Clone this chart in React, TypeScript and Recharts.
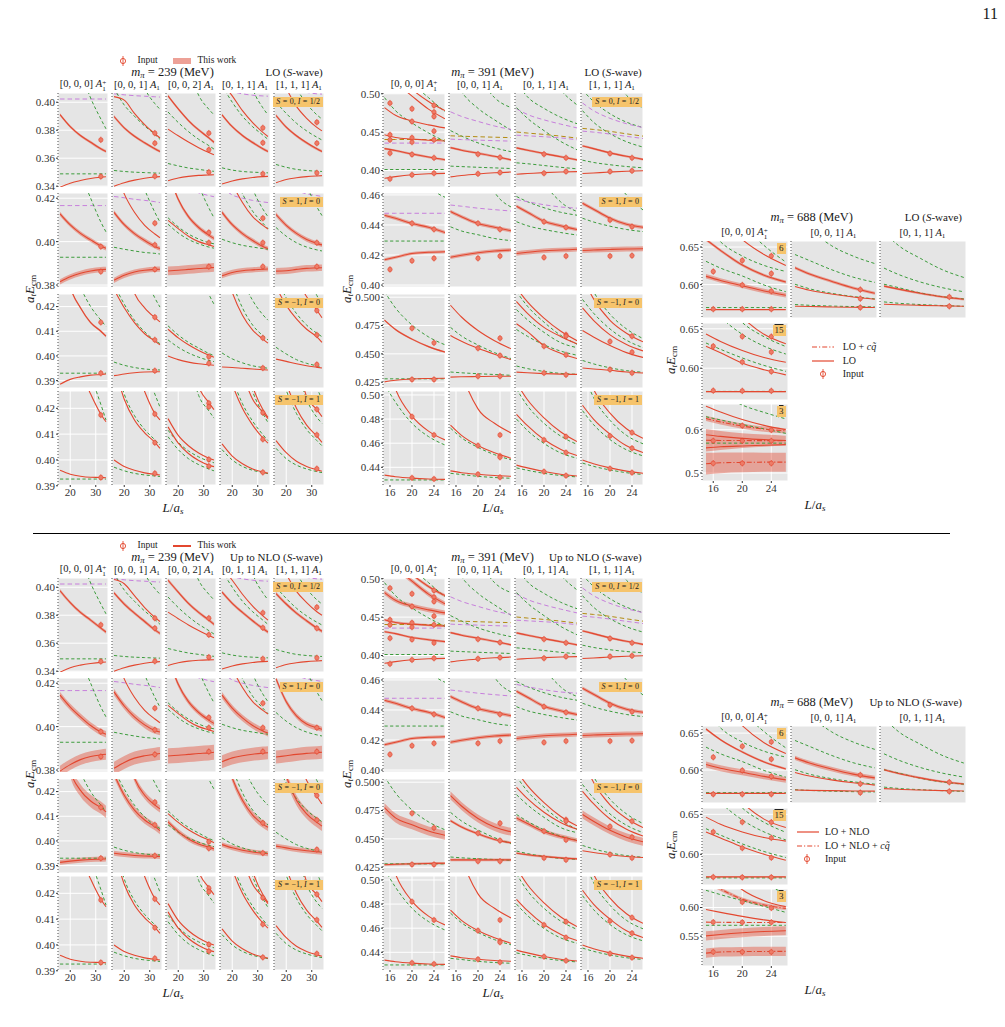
import React from 'react';
import { ComposedChart, Line, Area, Scatter, XAxis, YAxis, CartesianGrid } from 'recharts';

// a curve is [style, energies on the volume grid, optional half-width of its error band]
type Kind = 'r' | 'q' | 'g' | 'p' | 'y';
type Curve = [Kind, number[], (number | number[])?];
type Cell = Curve[];
type Inputs = number[][];

// ---------------------------------------------------------------- volumes
const L239 = [16, 20, 24, 28, 32, 34];
const vol239 = [32];
const L391 = [15, 17, 20, 23, 26];
const vol391 = [16, 20, 24];

// ---------------------------------------------------------------- labels
const irreps239 = ['0, 0, 0', '0, 0, 1', '0, 0, 2', '0, 1, 1', '1, 1, 1'];
const irreps391 = ['0, 0, 0', '0, 0, 1', '0, 1, 1', '1, 1, 1'];
const irreps688 = ['0, 0, 0', '0, 0, 1', '0, 1, 1'];
const strangeness = ['0', '1', '\u22121', '\u22121'];
const isospin = ['1/2', '0', '0', '1'];
const flavour = ['6', '15', '3'];

const yTicks239 = [[0.34, 0.36, 0.38, 0.4], [0.38, 0.4, 0.42], [0.39, 0.4, 0.41, 0.42], [0.39, 0.4, 0.41, 0.42]];
const yTicks391 = [[0.4, 0.45, 0.5], [0.4, 0.42, 0.44, 0.46], [0.425, 0.45, 0.475, 0.5], [0.44, 0.46, 0.48, 0.5]];
const yTicks688lo = [[0.6, 0.65], [0.6, 0.65], [0.5, 0.6]];
const yTicks688nlo = [[0.6, 0.65], [0.6, 0.65], [0.55, 0.6]];

// ================================================================ m_pi = 239 MeV
// non-interacting levels and thresholds
const free239r1: Cell[] = [
  [['p', [0.4023, 0.4023, 0.4023, 0.4023, 0.4023, 0.4023]], ['g', [0.51, 0.455, 0.423, 0.403, 0.388, 0.381]], ['g', [0.3488, 0.3488, 0.3488, 0.3488, 0.3488, 0.3488]]],
  [['p', [0.406, 0.4053, 0.4047, 0.4043, 0.4039, 0.4037]], ['g', [0.52, 0.47, 0.43, 0.41, 0.399, 0.395]], ['g', [0.41, 0.398, 0.39, 0.383, 0.377, 0.3735]], ['g', [0.3512, 0.3505, 0.35, 0.3497, 0.3494, 0.3493]]],
  [['g', [0.5, 0.46, 0.425, 0.405, 0.395, 0.391]], ['g', [0.393, 0.3855, 0.379, 0.3735, 0.369, 0.3665]], ['g', [0.3562, 0.3545, 0.353, 0.352, 0.351, 0.3506]]],
  [['p', [0.409, 0.4075, 0.406, 0.405, 0.4045, 0.4043]], ['g', [0.53, 0.48, 0.44, 0.41, 0.396, 0.391]], ['g', [0.412, 0.4, 0.39, 0.3825, 0.3765, 0.3735]], ['g', [0.3531, 0.3515, 0.3505, 0.35, 0.3497, 0.3495]]],
  [['p', [0.412, 0.41, 0.408, 0.407, 0.406, 0.4058]], ['g', [0.45, 0.425, 0.41, 0.399, 0.391, 0.388]], ['g', [0.4, 0.392, 0.385, 0.3795, 0.375, 0.373]], ['g', [0.3555, 0.3535, 0.352, 0.3512, 0.3507, 0.3505]]],
];
const free239r2: Cell[] = [
  [['p', [0.4166, 0.4166, 0.4166, 0.4166, 0.4166, 0.4166]], ['g', [0.48, 0.45, 0.432, 0.42, 0.409, 0.4045]], ['g', [0.3928, 0.3928, 0.3928, 0.3928, 0.3928, 0.3928]]],
  [['p', [0.4208, 0.4202, 0.4195, 0.419, 0.4184, 0.418]], ['g', [0.48, 0.455, 0.437, 0.424, 0.4135, 0.409]], ['g', [0.3974, 0.3965, 0.3957, 0.395, 0.3946, 0.3943]]],
  [['p', [0.428, 0.426, 0.424, 0.4225, 0.4212, 0.4207]], ['g', [0.49, 0.46, 0.44, 0.426, 0.4155, 0.411]], ['g', [0.411, 0.4068, 0.4035, 0.4012, 0.3995, 0.399]], ['g', [0.408, 0.404, 0.401, 0.399, 0.3975, 0.397]]],
  [['p', [0.425, 0.4215, 0.42, 0.419, 0.4183, 0.418]], ['g', [0.49, 0.46, 0.44, 0.4245, 0.415, 0.4115]], ['g', [0.445, 0.432, 0.422, 0.414, 0.4085, 0.406]], ['g', [0.4011, 0.3995, 0.3983, 0.3975, 0.3968, 0.3965]]],
  [['p', [0.43, 0.426, 0.4235, 0.422, 0.4212, 0.4208]], ['g', [0.49, 0.46, 0.44, 0.426, 0.416, 0.412]], ['g', [0.4065, 0.4025, 0.3995, 0.3975, 0.3962, 0.3957]]],
];
const free239r3: Cell[] = [
  [['g', [0.46, 0.44, 0.428, 0.42, 0.4145, 0.412]], ['g', [0.393, 0.393, 0.393, 0.393, 0.393, 0.393]]],
  [['g', [0.429, 0.421, 0.4145, 0.4098, 0.4063, 0.405]], ['g', [0.5, 0.47, 0.448, 0.433, 0.4235, 0.4198]], ['g', [0.3975, 0.3962, 0.3953, 0.3947, 0.3944, 0.3943]]],
  [['g', [0.52, 0.48, 0.452, 0.436, 0.425, 0.421]], ['g', [0.4122, 0.4085, 0.4055, 0.4032, 0.401, 0.4001]], ['g', [0.4065, 0.4035, 0.4012, 0.3995, 0.3982, 0.3977]]],
  [['g', [0.47, 0.445, 0.431, 0.4225, 0.4167, 0.4145]], ['g', [0.445, 0.43, 0.4195, 0.4125, 0.4082, 0.4065]], ['g', [0.4012, 0.3988, 0.3972, 0.396, 0.3953, 0.395]]],
  [['g', [0.5, 0.47, 0.448, 0.433, 0.4245, 0.4205]], ['g', [0.432, 0.4235, 0.4172, 0.4125, 0.4092, 0.4078]], ['g', [0.4035, 0.4008, 0.3985, 0.397, 0.396, 0.3956]]],
];
const free239r4: Cell[] = [
  [['g', [0.49, 0.465, 0.446, 0.433, 0.4215, 0.4155]], ['g', [0.3926, 0.3926, 0.3926, 0.3926, 0.3926, 0.3926]]],
  [['g', [0.5, 0.47, 0.45, 0.436, 0.4255, 0.4205]], ['g', [0.44, 0.4255, 0.4172, 0.4118, 0.4078, 0.4058]], ['g', [0.3972, 0.3958, 0.3948, 0.3942, 0.3938, 0.3936]]],
  [['g', [0.485, 0.46, 0.44, 0.425, 0.419, 0.4162]], ['g', [0.4115, 0.4068, 0.4035, 0.4012, 0.3995, 0.3989]], ['g', [0.409, 0.404, 0.4005, 0.3982, 0.3965, 0.3958]]],
  [['g', [0.485, 0.458, 0.44, 0.4265, 0.418, 0.4145]], ['g', [0.447, 0.432, 0.4218, 0.415, 0.4098, 0.4075]], ['g', [0.404, 0.4, 0.3975, 0.396, 0.3951, 0.3947]]],
  [['g', [0.485, 0.455, 0.437, 0.4235, 0.4165, 0.4142]], ['g', [0.52, 0.49, 0.465, 0.44, 0.428, 0.4235]], ['g', [0.441, 0.427, 0.418, 0.4118, 0.4075, 0.4055]], ['g', [0.4045, 0.4005, 0.398, 0.3965, 0.3955, 0.3951]]],
];

// lattice inputs at L/a_s = 32
const in239r1: Inputs[] = [[[0.3731, 0.3469]], [[0.3779, 0.3707, 0.3471]], [[0.3779, 0.366, 0.35]], [[0.3817, 0.371, 0.3488]], [[0.3857, 0.3707, 0.3495]]];
const in239r2: Inputs[] = [[[0.3977, 0.3862]], [[0.4085, 0.3985, 0.3872]], [[0.4042, 0.3995, 0.3885]], [[0.4108, 0.3995, 0.3885]], [[0.3995, 0.3885]]];
const in239r3: Inputs[] = [[[0.4136, 0.393]], [[0.4157, 0.4065, 0.394]], [[0.3997, 0.397]], [[0.4073, 0.3951]], [[0.4184, 0.4085, 0.3965]]];
const in239r4: Inputs[] = [[[0.4174, 0.3932]], [[0.4178, 0.4067, 0.3948]], [[0.422, 0.4206, 0.4002, 0.3976]], [[0.4183, 0.408, 0.3952]], [[0.4196, 0.4097, 0.3966]]];

// LO spectra
const lo239r1: Cell[] = [
  [['r', [0.3912, 0.3826, 0.3762, 0.3714, 0.3667, 0.3648], 0.001], ['r', [0.3393, 0.3421, 0.344, 0.3455, 0.3464, 0.3467]]],
  [['r', [0.404, 0.4015, 0.392, 0.384, 0.3775, 0.3745]], ['r', [0.3898, 0.3817, 0.3757, 0.371, 0.3667, 0.3648], 0.001], ['r', [0.34, 0.3425, 0.3443, 0.3456, 0.3465, 0.3468]]],
  [['r', [0.4045, 0.3952, 0.3869, 0.3802, 0.3745, 0.3714], 0.001], ['r', [0.3808, 0.376, 0.3715, 0.3675, 0.364, 0.3625]], ['r', [0.3438, 0.3458, 0.347, 0.3477, 0.348, 0.3482]]],
  [['r', [0.414, 0.4045, 0.394, 0.3855, 0.3785, 0.3755]], ['r', [0.391, 0.3825, 0.3762, 0.3712, 0.3667, 0.3648], 0.001], ['r', [0.3415, 0.3437, 0.3452, 0.3462, 0.3468, 0.347]]],
  [['r', [0.425, 0.41, 0.397, 0.3885, 0.382, 0.3795]], ['r', [0.3905, 0.3822, 0.376, 0.371, 0.3667, 0.3648], 0.001], ['r', [0.3425, 0.3448, 0.346, 0.3468, 0.3473, 0.3475]]],
];
const lo239r2: Cell[] = [
  [['r', [0.4128, 0.4077, 0.4038, 0.4008, 0.398, 0.3969], 0.001], ['r', [0.3815, 0.3838, 0.3854, 0.3865, 0.3871, 0.3872], 0.0012]],
  [['r', [0.435, 0.422, 0.4135, 0.4075, 0.4035, 0.4018]], ['r', [0.4135, 0.4078, 0.4037, 0.4005, 0.3978, 0.3968], 0.001], ['r', [0.3822, 0.3845, 0.386, 0.3868, 0.3872, 0.3873], 0.0012]],
  [['r', [0.432, 0.4195, 0.4115, 0.4065, 0.403, 0.4015], 0.001], ['r', [0.4098, 0.406, 0.4025, 0.4, 0.3985, 0.3978]], ['r', [0.3865, 0.3868, 0.3872, 0.3876, 0.3879, 0.3881], 0.002]],
  [['r', [0.44, 0.427, 0.418, 0.4115, 0.4075, 0.4058]], ['r', [0.4135, 0.4078, 0.4037, 0.4005, 0.3978, 0.3968], 0.001], ['r', [0.3843, 0.3858, 0.3866, 0.387, 0.3873, 0.3874], 0.0012]],
  [['r', [0.4125, 0.4075, 0.4038, 0.401, 0.3992, 0.3985], 0.001], ['r', [0.3864, 0.3866, 0.3872, 0.3877, 0.3879, 0.388], 0.0015]],
];
const lo239r3: Cell[] = [
  [['r', [0.448, 0.428, 0.4195, 0.4135, 0.41, 0.408], 0.0005], ['r', [0.3885, 0.3905, 0.3915, 0.3922, 0.3925, 0.3927]]],
  [['r', [0.46, 0.44, 0.4255, 0.4195, 0.4155, 0.4138]], ['r', [0.427, 0.4195, 0.4135, 0.409, 0.406, 0.4045]], ['r', [0.392, 0.3927, 0.3932, 0.3935, 0.3936, 0.3936]]],
  [['r', [0.4108, 0.4073, 0.4045, 0.4022, 0.4003, 0.3995]], ['r', [0.4, 0.3985, 0.3975, 0.3968, 0.3964, 0.3962]]],
  [['r', [0.44, 0.4258, 0.4165, 0.4105, 0.4068, 0.4052]], ['r', [0.3955, 0.3953, 0.395, 0.3947, 0.3944, 0.3943]]],
  [['r', [0.47, 0.447, 0.432, 0.424, 0.4185, 0.4155]], ['r', [0.428, 0.4205, 0.415, 0.4108, 0.4077, 0.4055]], ['r', [0.3987, 0.3978, 0.3968, 0.396, 0.3954, 0.3951]]],
];
const lo239r4: Cell[] = [
  [['r', [0.47, 0.45, 0.435, 0.4255, 0.4177, 0.4148]], ['r', [0.396, 0.3945, 0.3937, 0.3933, 0.3932, 0.3931]]],
  [['r', [0.48, 0.455, 0.438, 0.4265, 0.418, 0.4155]], ['r', [0.437, 0.4235, 0.4155, 0.4105, 0.4068, 0.4045]], ['r', [0.4, 0.3975, 0.396, 0.395, 0.3944, 0.3942]]],
  [['r', [0.49, 0.465, 0.445, 0.4285, 0.4222, 0.4195]], ['r', [0.416, 0.4095, 0.4055, 0.4027, 0.4007, 0.4]], ['r', [0.4128, 0.4065, 0.4025, 0.3998, 0.398, 0.3974]]],
  [['r', [0.475, 0.45, 0.434, 0.4235, 0.4185, 0.416]], ['r', [0.49, 0.462, 0.443, 0.4285, 0.4195, 0.4165]], ['r', [0.444, 0.4295, 0.42, 0.4135, 0.4085, 0.4065]], ['r', [0.4062, 0.4015, 0.3985, 0.3965, 0.3953, 0.3949]]],
  [['r', [0.49, 0.46, 0.44, 0.4245, 0.4195, 0.4168]], ['r', [0.445, 0.43, 0.42, 0.4135, 0.4092, 0.4068]], ['r', [0.4075, 0.4028, 0.3995, 0.3975, 0.3962, 0.3956]]],
];

// spectra up to NLO (the S = -1, I = 1 row is unchanged)
const nlo239r1: Cell[] = [
  [['r', [0.3975, 0.389, 0.382, 0.3765, 0.3708, 0.368], 0.0012], ['r', [0.3393, 0.3425, 0.3443, 0.3455, 0.3463, 0.3465]]],
  [['r', [0.4055, 0.4025, 0.394, 0.3855, 0.3785, 0.3755]], ['r', [0.396, 0.388, 0.3815, 0.3755, 0.3695, 0.367], 0.0012], ['r', [0.34, 0.3425, 0.3443, 0.3456, 0.3465, 0.3468]]],
  [['r', [0.405, 0.3965, 0.3885, 0.382, 0.3765, 0.3735], 0.0012], ['r', [0.3822, 0.3775, 0.373, 0.369, 0.3655, 0.3638]], ['r', [0.344, 0.346, 0.3472, 0.3478, 0.3481, 0.3482]]],
  [['r', [0.414, 0.405, 0.395, 0.3865, 0.3795, 0.3765]], ['r', [0.3965, 0.3885, 0.382, 0.376, 0.3705, 0.368], 0.0012], ['r', [0.3415, 0.3437, 0.3452, 0.3462, 0.3468, 0.347]]],
  [['r', [0.424, 0.4095, 0.397, 0.389, 0.3825, 0.38]], ['r', [0.3955, 0.388, 0.3815, 0.376, 0.3708, 0.3685], 0.0012], ['r', [0.3425, 0.3448, 0.346, 0.3468, 0.3473, 0.3475]]],
];
const nlo239r2: Cell[] = [
  [['r', [0.4145, 0.409, 0.4045, 0.4005, 0.3975, 0.3965], 0.0015], ['r', [0.3795, 0.3825, 0.3848, 0.3862, 0.387, 0.3873], 0.0025]],
  [['r', [0.435, 0.422, 0.4135, 0.4075, 0.4035, 0.4018]], ['r', [0.416, 0.4095, 0.4045, 0.4008, 0.3982, 0.3975], 0.0015], ['r', [0.3808, 0.3835, 0.3855, 0.3866, 0.3873, 0.3876], 0.003]],
  [['r', [0.432, 0.4195, 0.4115, 0.4065, 0.403, 0.4015], 0.0012], ['r', [0.4098, 0.406, 0.4025, 0.4, 0.3985, 0.3978]], ['r', [0.3865, 0.3868, 0.3872, 0.3876, 0.3879, 0.3882], 0.0035]],
  [['r', [0.44, 0.427, 0.418, 0.4115, 0.4075, 0.4058]], ['r', [0.4145, 0.4085, 0.404, 0.4005, 0.398, 0.397], 0.0015], ['r', [0.3838, 0.3856, 0.3866, 0.3873, 0.3878, 0.388], 0.003]],
  [['r', [0.422, 0.4115, 0.405, 0.4012, 0.3995, 0.3988], 0.0012], ['r', [0.386, 0.3866, 0.3872, 0.3877, 0.388, 0.3882], 0.003]],
];
const nlo239r3: Cell[] = [
  [['r', [0.45, 0.4285, 0.4205, 0.4162, 0.4135, 0.4118], 0.0025], ['r', [0.3913, 0.3918, 0.3922, 0.3925, 0.3926, 0.3927], 0.001]],
  [['r', [0.46, 0.44, 0.4255, 0.4185, 0.4145, 0.413], 0.0015], ['r', [0.427, 0.4185, 0.4125, 0.4085, 0.4058, 0.4042], 0.0015], ['r', [0.395, 0.3945, 0.3941, 0.3939, 0.3938, 0.3937], 0.001]],
  [['r', [0.4111, 0.4075, 0.4045, 0.4022, 0.4003, 0.3993]], ['r', [0.4077, 0.4038, 0.4008, 0.3988, 0.3975, 0.3968], 0.001]],
  [['r', [0.44, 0.4255, 0.4165, 0.4105, 0.4068, 0.4055], 0.0015], ['r', [0.3985, 0.3972, 0.3962, 0.3955, 0.395, 0.3948], 0.001]],
  [['r', [0.48, 0.452, 0.435, 0.4245, 0.418, 0.415]], ['r', [0.445, 0.4265, 0.4165, 0.411, 0.4075, 0.406], 0.002], ['r', [0.3979, 0.3972, 0.3965, 0.396, 0.3956, 0.3954], 0.001]],
];

// ================================================================ m_pi = 391 MeV
const free391r1: Cell[] = [
  [['g', [0.495, 0.478, 0.462, 0.449, 0.438]], ['g', [0.58, 0.55, 0.515, 0.495, 0.4765]], ['y', [0.4404, 0.4404, 0.4404, 0.4404, 0.4404]], ['p', [0.4357, 0.4357, 0.4357, 0.4357, 0.4357]], ['g', [0.4013, 0.4013, 0.4013, 0.4013, 0.4013]]],
  [['g', [0.53, 0.503, 0.481, 0.466, 0.4525]], ['g', [0.6, 0.57, 0.525, 0.495, 0.482]], ['p', [0.4765, 0.4705, 0.464, 0.458, 0.4535]], ['g', [0.452, 0.445, 0.436, 0.4295, 0.4245]], ['y', [0.4452, 0.4447, 0.444, 0.4434, 0.4428]], ['p', [0.4409, 0.4403, 0.4396, 0.4389, 0.4383]], ['g', [0.4057, 0.4051, 0.4042, 0.4034, 0.4026]]],
  [['g', [0.515, 0.496, 0.481, 0.4695, 0.461]], ['g', [0.62, 0.58, 0.535, 0.505, 0.4855]], ['p', [0.4805, 0.473, 0.466, 0.4605, 0.4555]], ['g', [0.482, 0.468, 0.452, 0.438, 0.427]], ['y', [0.4502, 0.4488, 0.447, 0.4448, 0.4422]], ['p', [0.446, 0.4452, 0.444, 0.4425, 0.44]], ['g', [0.41, 0.4088, 0.4065, 0.4042, 0.4022]]],
  [['g', [0.505, 0.49, 0.474, 0.463, 0.456]], ['g', [0.6, 0.565, 0.525, 0.498, 0.481]], ['p', [0.488, 0.478, 0.468, 0.461, 0.456]], ['g', [0.478, 0.463, 0.448, 0.4375, 0.4305]], ['y', [0.4548, 0.4535, 0.451, 0.4478, 0.4448]], ['p', [0.4513, 0.45, 0.4475, 0.4445, 0.4417]], ['g', [0.4135, 0.4105, 0.4075, 0.4052, 0.4035]]],
];
const free391r2: Cell[] = [
  [['g', [0.6, 0.55, 0.5, 0.468, 0.4585]], ['p', [0.4478, 0.4478, 0.4478, 0.4478, 0.4478]], ['g', [0.4293, 0.4293, 0.4293, 0.4293, 0.4293]]],
  [['g', [0.56, 0.525, 0.488, 0.462, 0.452]], ['p', [0.4533, 0.4525, 0.4512, 0.4502, 0.4493]], ['g', [0.4388, 0.436, 0.4335, 0.431, 0.4296]]],
  [['g', [0.54, 0.505, 0.47, 0.4555, 0.449]], ['g', [0.459, 0.4555, 0.4515, 0.4485, 0.4465]], ['p', [0.457, 0.4555, 0.4535, 0.452, 0.4512]], ['g', [0.4422, 0.4395, 0.437, 0.435, 0.4333]]],
  [['g', [0.53, 0.505, 0.475, 0.46, 0.45]], ['g', [0.4445, 0.442, 0.4392, 0.437, 0.4356]]],
];
const free391r3: Cell[] = [
  [['g', [0.505, 0.4905, 0.4755, 0.465, 0.458]], ['g', [0.428, 0.428, 0.428, 0.428, 0.428]]],
  [['g', [0.4734, 0.4658, 0.4578, 0.4511, 0.4459]], ['g', [0.434, 0.4333, 0.4325, 0.4318, 0.4311]]],
  [['g', [0.505, 0.492, 0.478, 0.4665, 0.4585]], ['g', [0.489, 0.48, 0.469, 0.46, 0.4555]], ['g', [0.4715, 0.4655, 0.458, 0.4525, 0.4488]], ['g', [0.4393, 0.437, 0.4345, 0.4328, 0.432]]],
  [['g', [0.525, 0.505, 0.485, 0.472, 0.4635]], ['g', [0.498, 0.486, 0.472, 0.462, 0.4555]], ['g', [0.4442, 0.4412, 0.4377, 0.4352, 0.4338]]],
];
const free391r4: Cell[] = [
  [['g', [0.509, 0.494, 0.4765, 0.4655, 0.4585]], ['g', [0.4295, 0.4295, 0.4295, 0.4295, 0.4295]]],
  [['g', [0.4725, 0.4645, 0.4565, 0.4505, 0.4462]], ['g', [0.435, 0.434, 0.4325, 0.4315, 0.4309]]],
  [['g', [0.505, 0.491, 0.4765, 0.466, 0.459]], ['g', [0.48, 0.4705, 0.4598, 0.452, 0.4475]], ['g', [0.4395, 0.4375, 0.435, 0.4332, 0.432]]],
  [['g', [0.52, 0.498, 0.479, 0.4665, 0.4595]], ['g', [0.487, 0.4755, 0.463, 0.4545, 0.4495]], ['g', [0.4435, 0.4408, 0.4378, 0.4355, 0.434]]],
];

// lattice inputs at L/a_s = 16, 20, 24
const in391r1: Inputs[] = [
  [[0.4878, 0.4465, 0.44, 0.4226, 0.3891], [0.4804, 0.4639, 0.4426, 0.437, 0.4209, 0.3943], [0.4848, 0.4761, 0.4704, 0.4513, 0.44, 0.4165, 0.3965]],
  [[], [0.4213, 0.3957], [0.417, 0.3974]],
  [[], [0.4213, 0.3965], [0.4165, 0.3987]],
  [[], [0.4222, 0.3987], [0.4165, 0.3996]],
];
const in391r2: Inputs[] = [
  [[0.4104], [0.4411, 0.4162], [0.4371, 0.4178]],
  [[], [0.4411, 0.4178], [0.4371, 0.4193]],
  [[], [0.4422, 0.4184], [0.4384, 0.4193]],
  [[], [0.4433, 0.4193], [0.4389, 0.4196]],
];
const in391r3: Inputs[] = [
  [[], [0.4726, 0.4274], [0.4597, 0.4274]],
  [[], [0.455, 0.4303], [0.4638, 0.4485, 0.4303]],
  [[], [0.4568, 0.4332], [0.4668, 0.4656, 0.4491, 0.4315]],
  [[], [0.4609, 0.4362], [0.4656, 0.4515, 0.4332]],
];
const in391r4: Inputs[] = [
  [[], [0.482, 0.4312], [0.4668, 0.4303]],
  [[], [0.458, 0.4342], [0.4668, 0.4494, 0.4483, 0.4317]],
  [[], [0.4627, 0.4364], [0.4654, 0.4522, 0.4331]],
  [[], [0.466, 0.4389], [0.4688, 0.4558, 0.4356]],
];

const lo391r1: Cell[] = [
  [['r', [0.55, 0.53, 0.506, 0.49, 0.478]], ['r', [0.53, 0.515, 0.497, 0.48, 0.4674]], ['r', [0.482, 0.472, 0.4645, 0.4595, 0.4555]], ['r', [0.4465, 0.443, 0.441, 0.4395, 0.4385]], ['r', [0.4285, 0.426, 0.4215, 0.4175, 0.414], 0.0015], ['r', [0.3898, 0.392, 0.3945, 0.3958, 0.3963]]],
  [['r', [0.4298, 0.4265, 0.4225, 0.4185, 0.4138], 0.0015], ['r', [0.3917, 0.3935, 0.3955, 0.397, 0.398]]],
  [['r', [0.4295, 0.4265, 0.422, 0.418, 0.4138], 0.0015], ['r', [0.3952, 0.396, 0.3972, 0.398, 0.3986]]],
  [['r', [0.432, 0.4285, 0.423, 0.4185, 0.4145], 0.0015], ['r', [0.396, 0.3968, 0.398, 0.399, 0.3996]]],
];
const lo391r2: Cell[] = [
  [['r', [0.4465, 0.4445, 0.441, 0.4385, 0.435], 0.0012], ['r', [0.4168, 0.4185, 0.421, 0.4218, 0.4222], 0.001]],
  [['r', [0.449, 0.4455, 0.441, 0.4385, 0.4362], 0.0012], ['r', [0.4185, 0.4198, 0.4215, 0.4227, 0.4233], 0.0012]],
  [['r', [0.4525, 0.4485, 0.4425, 0.4395, 0.437], 0.0012], ['r', [0.421, 0.4218, 0.4228, 0.4233, 0.4238], 0.0015]],
  [['r', [0.4545, 0.4505, 0.4445, 0.4405, 0.4385], 0.0012], ['r', [0.423, 0.4233, 0.4237, 0.424, 0.4242], 0.0017]],
];
const lo391r3: Cell[] = [
  [['r', [0.4798, 0.4715, 0.463, 0.4564, 0.4516], 0.0008], ['r', [0.4253, 0.4267, 0.4279, 0.4283, 0.4285]]],
  [['r', [0.4929, 0.4825, 0.4706, 0.4616, 0.4545]], ['r', [0.4663, 0.4611, 0.4549, 0.4497, 0.445]], ['r', [0.4295, 0.4298, 0.43, 0.4302, 0.4302]]],
  [['r', [0.5081, 0.4958, 0.4815, 0.4701, 0.4616]], ['r', [0.4962, 0.4858, 0.4734, 0.4654, 0.4589]], ['r', [0.4766, 0.4696, 0.4573, 0.4506, 0.4459]], ['r', [0.4339, 0.4333, 0.4326, 0.4321, 0.4319]]],
  [['r', [0.5176, 0.4986, 0.4796, 0.4682, 0.4606]], ['r', [0.4905, 0.4796, 0.4668, 0.4583, 0.4526]], ['r', [0.4706, 0.4649, 0.4573, 0.4511, 0.4469]], ['r', [0.4376, 0.4367, 0.4355, 0.434, 0.4331]]],
];
const lo391r4: Cell[] = [
  [['r', [0.535, 0.505, 0.4825, 0.47, 0.4627]], ['r', [0.4335, 0.4322, 0.431, 0.4303, 0.43]]],
  [['r', [0.56, 0.52, 0.4885, 0.4765, 0.4685]], ['r', [0.475, 0.4665, 0.458, 0.452, 0.4475]], ['r', [0.437, 0.4355, 0.4342, 0.4332, 0.4325]]],
  [['r', [0.51, 0.496, 0.481, 0.4695, 0.4613]], ['r', [0.484, 0.4745, 0.463, 0.455, 0.4497]], ['r', [0.4418, 0.4395, 0.4365, 0.4342, 0.4328]]],
  [['r', [0.53, 0.505, 0.485, 0.472, 0.464]], ['r', [0.4915, 0.48, 0.4675, 0.4578, 0.4522]], ['r', [0.446, 0.443, 0.4395, 0.4368, 0.435]]],
];

const nlo391r1: Cell[] = [
  [['r', [0.55, 0.53, 0.506, 0.49, 0.478], 0.002], ['r', [0.53, 0.515, 0.497, 0.48, 0.4674], 0.003], ['r', [0.482, 0.472, 0.4645, 0.4595, 0.4555], 0.003], ['r', [0.4465, 0.443, 0.441, 0.4395, 0.4385], 0.0015], ['r', [0.431, 0.4285, 0.4235, 0.4205, 0.418], 0.0015], ['r', [0.3898, 0.392, 0.3945, 0.3958, 0.3963]]],
  lo391r1[1],
  lo391r1[2],
  lo391r1[3],
];
const nlo391r3: Cell[] = [
  [['r', [0.4775, 0.4685, 0.4625, 0.457, 0.4532], 0.004], ['r', [0.4272, 0.4276, 0.428, 0.4283, 0.4285], 0.001]],
  [['r', [0.4882, 0.479, 0.468, 0.4605, 0.4562], 0.0035], ['r', [0.466, 0.4605, 0.4545, 0.4495, 0.4465], 0.0012], ['r', [0.4315, 0.4315, 0.4315, 0.4315, 0.4315], 0.0012]],
  [['r', [0.51, 0.497, 0.482, 0.47, 0.4615]], ['r', [0.4955, 0.4855, 0.4735, 0.4645, 0.4585]], ['r', [0.4685, 0.4635, 0.4565, 0.452, 0.4485], 0.002], ['r', [0.4374, 0.436, 0.4345, 0.4332, 0.4324], 0.001]],
  [['r', [0.52, 0.5, 0.48, 0.468, 0.46]], ['r', [0.492, 0.481, 0.4675, 0.4585, 0.4525]], ['r', [0.4715, 0.4655, 0.4575, 0.4515, 0.4475], 0.0035], ['r', [0.4395, 0.438, 0.436, 0.4345, 0.4335]]],
];

// ================================================================ m_pi = 688 MeV
const free688r1: Cell[] = [
  [['g', [0.76, 0.72, 0.68, 0.652, 0.63]], ['g', [0.68, 0.657, 0.638, 0.6255, 0.6175]], ['g', [0.631, 0.622, 0.6115, 0.5995, 0.5905]], ['g', [0.5695, 0.5695, 0.5695, 0.5695, 0.5695]]],
  [['g', [0.7, 0.675, 0.652, 0.638, 0.628]], ['g', [0.64, 0.632, 0.62, 0.61, 0.603]], ['g', [0.6005, 0.5945, 0.5885, 0.5842, 0.581]], ['g', [0.5735, 0.5725, 0.5715, 0.5708, 0.5704]]],
  [['g', [0.67, 0.652, 0.635, 0.62, 0.6095]], ['g', [0.622, 0.6135, 0.6035, 0.596, 0.5905]], ['g', [0.6005, 0.596, 0.589, 0.584, 0.581]], ['g', [0.577, 0.5752, 0.5735, 0.5722, 0.5712]]],
];
const free688r2: Cell[] = [
  [['g', [0.72, 0.69, 0.658, 0.64, 0.6275]], ['g', [0.685, 0.665, 0.643, 0.628, 0.618]], ['g', [0.632, 0.624, 0.613, 0.6035, 0.596]], ['g', [0.5705, 0.5705, 0.5705, 0.5705, 0.5705]]],
];
const free688r3: Cell[] = [
  [['g', [0.71, 0.685, 0.657, 0.64, 0.625]], ['g', [0.63, 0.6225, 0.612, 0.602, 0.5915]], ['g', [0.569, 0.569, 0.569, 0.569, 0.569]]],
];

const in688r1: Inputs[] = [
  [[0.6174, 0.5674], [0.6321, 0.5995, 0.5674], [0.6381, 0.6147, 0.5913, 0.5674]],
  [[], [], [0.5934, 0.5814, 0.5695]],
  [[], [], [0.5836, 0.5712]],
];
const in688r2: Inputs[] = [[[0.6279, 0.5715], [0.6403, 0.6078, 0.5712], [0.6401, 0.6205, 0.5958, 0.5712]]];
const in688r3: Inputs[] = [[[0.5745, 0.5225], [0.6095, 0.5742, 0.5225], [0.5992, 0.5742, 0.5225]]];

const lo688r1: Cell[] = [
  [['r', [0.72, 0.69, 0.66, 0.64, 0.6255]], ['r', [0.66, 0.6455, 0.626, 0.6125, 0.6035], 0.002], ['r', [0.611, 0.6055, 0.5985, 0.5915, 0.5858], 0.003], ['r', [0.5668, 0.5668, 0.5668, 0.5668, 0.5668]]],
  [['r', [0.6225, 0.614, 0.6045, 0.5955, 0.5885], 0.002], ['r', [0.5975, 0.5925, 0.5875, 0.5835, 0.5805]], ['r', [0.5712, 0.5708, 0.5703, 0.5698, 0.5695]]],
  [['r', [0.598, 0.594, 0.5885, 0.5838, 0.5805], 0.0015], ['r', [0.5739, 0.5732, 0.5724, 0.5717, 0.5712]]],
];
const lo688r2: Cell[] = [
  [['r', [0.73, 0.7, 0.665, 0.643, 0.631]], ['r', [0.6435, 0.634, 0.6225, 0.6135, 0.6075]], ['r', [0.628, 0.6195, 0.6065, 0.598, 0.5915]], ['r', [0.5703, 0.5703, 0.5703, 0.5703, 0.5703], 0.0008]],
];
const lo688r3: Cell[] = [
  [['r', [0.6545, 0.641, 0.6235, 0.61, 0.6]], ['q', [0.626, 0.618, 0.6085, 0.6015, 0.5975], 0.006], ['r', [0.5885, 0.5845, 0.58, 0.577, 0.575]], ['q', [0.5755, 0.5752, 0.575, 0.5748, 0.5748], [0.026, 0.022, 0.017, 0.014, 0.0115]], ['r', [0.558, 0.5605, 0.5625, 0.564, 0.5655]], ['q', [0.5215, 0.5235, 0.5245, 0.525, 0.525], [0.025, 0.024, 0.023, 0.022, 0.022]]],
];
const nlo688r1: Cell[] = [
  [['r', [0.725, 0.693, 0.66, 0.637, 0.6225]], ['r', [0.6555, 0.641, 0.6245, 0.611, 0.6015], 0.0015], ['r', [0.6075, 0.6025, 0.597, 0.5915, 0.5868], 0.004], ['r', [0.5685, 0.5685, 0.5685, 0.5685, 0.5685]]],
  [['r', [0.6165, 0.6095, 0.6015, 0.5945, 0.5895], 0.003], ['r', [0.5968, 0.592, 0.5868, 0.5828, 0.5797]], ['r', [0.573, 0.5726, 0.5722, 0.5718, 0.5716]]],
  [['r', [0.6005, 0.5955, 0.5895, 0.5845, 0.5811], 0.0015], ['r', [0.575, 0.574, 0.573, 0.5722, 0.5718]]],
];
const nlo688r2: Cell[] = [
  [['r', [0.735, 0.7, 0.665, 0.644, 0.6335]], ['r', [0.6465, 0.6375, 0.628, 0.621, 0.6165]], ['r', [0.628, 0.6205, 0.609, 0.6, 0.5925]], ['r', [0.5717, 0.5717, 0.5717, 0.5717, 0.5717], 0.0006]],
];
const nlo688r3: Cell[] = [
  [['r', [0.7, 0.665, 0.631, 0.612, 0.6015]], ['q', [0.645, 0.632, 0.6145, 0.6045, 0.5985], 0.003], ['r', [0.5965, 0.5915, 0.5845, 0.5785, 0.5738]], ['q', [0.5745, 0.5742, 0.574, 0.574, 0.574]], ['r', [0.5505, 0.553, 0.556, 0.5582, 0.5595], 0.008], ['q', [0.5205, 0.5225, 0.5232, 0.5234, 0.5235], 0.008]],
];

// ---------------------------------------------------------------- styling
const SERIF = "'Liberation Serif', 'DejaVu Serif', serif";
const RED = '#e3472f';
const INPUT_FILL = '#ee7c68';
const GREEN = '#3c9c3c';
const PURPLE = '#c77fdc';
const OLIVE = '#b38b12';
const PANEL_BG = '#e5e5e5';
const INK = '#1a1a1a';
const TICK = '#333333';
const PAD = 6; // room above and below a panel for edge tick labels

const STYLE: Record<Kind, { stroke: string; dash?: string; width: number }> = {
  r: { stroke: RED, width: 1.1 },
  q: { stroke: RED, dash: '5 2 1.2 2', width: 1.1 },
  g: { stroke: GREEN, dash: '3.2 2.4', width: 1 },
  p: { stroke: PURPLE, dash: '4.5 3', width: 1 },
  y: { stroke: OLIVE, dash: '4.5 3', width: 1 },
};

const SUB: React.CSSProperties = { fontSize: '0.7em', verticalAlign: '-0.3em', lineHeight: 0 };

type Row = { domain: [number, number]; ticks: number[]; digits: number; free: Cell[]; fits: Cell[]; inputs: Inputs[]; tag: React.ReactNode };
type GroupCfg = {
  lefts: number[]; w: number; tops: number[]; h: number; xs: number[]; vols: number[];
  xDomain: [number, number]; xTicks: number[]; tagCol: number; rows: Row[];
};

function toRows(xs: number[], c: Curve) {
  return xs.map((L, i) => {
    const E = c[1][i];
    const hw = c[2] === undefined ? 0 : Array.isArray(c[2]) ? c[2][i] : c[2];
    return { L, E, band: [E - hw, E + hw] };
  });
}

function InputMark({ cx, cy }: { cx?: number; cy?: number }) {
  if (cx == null || cy == null) return null;
  return (
    <g>
      <line x1={cx} x2={cx} y1={cy - 3.2} y2={cy + 3.2} stroke={RED} strokeWidth={0.8} />
      <circle cx={cx} cy={cy} r={2.2} fill={INPUT_FILL} stroke={RED} strokeWidth={0.6} />
    </g>
  );
}

type PanelProps = {
  left: number; top: number; w: number; h: number; xs: number[]; vols: number[];
  xDomain: [number, number]; xTicks: number[]; yDomain: [number, number]; yTicks: number[]; yDigits: number;
  free: Cell; fits: Cell; inputs: Inputs; showY: boolean; showX: boolean; tag?: React.ReactNode;
};

function Panel(p: PanelProps) {
  const yw = p.showY ? 32 : 2;
  const xh = p.showX ? 16 : 3;
  const W = p.w + yw;
  const H = p.h + xh + 2 * PAD;
  const pts = p.vols.flatMap((L, i) => (p.inputs[i] || []).map((E) => ({ L, E })));
  const tickFont = { fontSize: 11, fill: TICK, fontFamily: SERIF };
  return (
    <div style={{ position: 'absolute', left: p.left - yw, top: p.top - PAD, width: W, height: H }}>
      <ComposedChart width={W} height={H} margin={{ top: PAD, right: 0, bottom: PAD, left: 0 }}>
        <CartesianGrid fill={PANEL_BG} stroke="#ffffff" strokeWidth={1} />
        <XAxis
          type="number" dataKey="L" domain={p.xDomain} ticks={p.xTicks} allowDataOverflow interval={0}
          height={xh} axisLine={false} tickSize={2} tickMargin={1} tickLine={{ stroke: TICK }}
          tick={p.showX ? tickFont : false}
        />
        <YAxis
          type="number" domain={p.yDomain} ticks={p.yTicks} allowDataOverflow interval={0}
          width={yw} axisLine={{ stroke: TICK, strokeDasharray: '0.9 2.1' }} tickSize={2} tickMargin={1}
          tickLine={p.showY ? { stroke: TICK } : false}
          tick={p.showY ? tickFont : false}
          tickFormatter={(v: number) => v.toFixed(p.yDigits)}
        />
        {p.fits.filter((c) => c[2] !== undefined).map((c, i) => (
          <Area
            key={`b${i}`} data={toRows(p.xs, c)} dataKey="band" type="monotone"
            stroke="none" fill={RED} fillOpacity={0.42} dot={false} activeDot={false} isAnimationActive={false}
          />
        ))}
        {p.free.concat(p.fits).map((c, i) => (
          <Line
            key={`l${i}`} data={toRows(p.xs, c)} dataKey="E" type="monotone"
            stroke={STYLE[c[0]].stroke} strokeWidth={STYLE[c[0]].width} strokeDasharray={STYLE[c[0]].dash}
            dot={false} activeDot={false} isAnimationActive={false}
          />
        ))}
        <Scatter data={pts} dataKey="E" shape={(s: any) => <InputMark cx={s.cx} cy={s.cy} />} isAnimationActive={false} />
      </ComposedChart>
      {p.tag}
    </div>
  );
}

function Group({ g, dy }: { g: GroupCfg; dy: number }) {
  return (
    <>
      {g.rows.map((row, r) =>
        row.fits.map((fits, c) => (
          <Panel
            key={`${r}-${c}`} left={g.lefts[c]} top={g.tops[r] + dy} w={g.w} h={g.h} xs={g.xs} vols={g.vols}
            xDomain={g.xDomain} xTicks={g.xTicks} yDomain={row.domain} yTicks={row.ticks} yDigits={row.digits}
            free={row.free[c]} fits={fits} inputs={row.inputs[c]} showY={c === 0} showX={r === g.rows.length - 1}
            tag={c === g.tagCol ? row.tag : undefined}
          />
        ))
      )}
    </>
  );
}

function ChannelTag({ r }: { r: number }) {
  return (
    <div style={{
      position: 'absolute', right: 1, top: PAD + 4, background: '#f6c46c', padding: '0 3px', fontSize: 8,
      lineHeight: '10px', fontFamily: SERIF, fontStyle: 'italic', color: '#222', whiteSpace: 'nowrap',
    }}>
      S = <span style={{ fontStyle: 'normal' }}>{strangeness[r]}</span>, I = <span style={{ fontStyle: 'normal' }}>{isospin[r]}</span>
    </div>
  );
}

function FlavourTag({ r }: { r: number }) {
  return (
    <div style={{
      position: 'absolute', right: 2, top: PAD + 2, background: '#f6c46c', padding: '0 2px', fontSize: 9,
      lineHeight: '11px', fontFamily: SERIF, color: '#222', textDecoration: r > 0 ? 'overline' : 'none',
    }}>
      {flavour[r]}
    </div>
  );
}

function Abs({ x, y, align = 'c', size = 11, rot, children }: {
  x: number; y: number; align?: 'l' | 'c' | 'r'; size?: number; rot?: number; children: React.ReactNode;
}) {
  const tx = align === 'c' ? '-50%' : align === 'r' ? '-100%' : '0%';
  return (
    <div style={{
      position: 'absolute', left: x, top: y, transform: `translate(${tx}, -50%)` + (rot ? ` rotate(${rot}deg)` : ''),
      fontFamily: SERIF, fontSize: size, lineHeight: 1, whiteSpace: 'nowrap', color: INK,
    }}>
      {children}
    </div>
  );
}

// A_1 with an optional + stacked above the subscript
function Irrep({ d, plus }: { d: string; plus: boolean }) {
  return (
    <>
      [{d}] <i>A</i>
      <span style={{
        display: 'inline-flex', flexDirection: 'column', fontSize: '0.68em', lineHeight: 0.85,
        verticalAlign: plus ? '0.28em' : '-0.3em',
      }}>
        {plus && <span>+</span>}
        <span>1</span>
      </span>
    </>
  );
}

const MassTitle = ({ m }: { m: number }) => (
  <>
    <i>m</i><span style={SUB}><i>π</i></span> = {m} (MeV)
  </>
);
const YTitle = () => (
  <>
    <i>a</i><span style={SUB}><i>t</i></span><i>E</i><span style={SUB}>cm</span>
  </>
);
const XTitle = () => (
  <>
    <i>L</i>/<i>a</i><span style={SUB}><i>s</i></span>
  </>
);

function PhiIcon() {
  return (
    <svg width={7} height={11} style={{ display: 'block' }}>
      <line x1={3.5} x2={3.5} y1={0.5} y2={10.5} stroke={RED} strokeWidth={0.9} />
      <circle cx={3.5} cy={5.5} r={2.6} fill="none" stroke={RED} strokeWidth={0.9} />
    </svg>
  );
}

function LineKey({ x, y, dash }: { x: number; y: number; dash?: string }) {
  return (
    <svg width={22} height={4} style={{ position: 'absolute', left: x, top: y - 2 }}>
      <line x1={0} x2={22} y1={2} y2={2} stroke={RED} strokeWidth={1.2} strokeDasharray={dash} />
    </svg>
  );
}

// ---------------------------------------------------------------- layouts
const layout239 = {
  lefts: [58, 112, 166, 220, 274], w: 50, tops: [92.5, 193, 293.5, 391], h: 94,
  xs: L239, vols: vol239, xDomain: [15.2, 34.8] as [number, number], xTicks: [20, 30], tagCol: 4,
};
const layout391 = {
  lefts: [383, 449, 515, 581], w: 62, tops: [92.5, 193, 293.5, 391], h: 94,
  xs: L391, vols: vol391, xDomain: [14.73, 26] as [number, number], xTicks: [16, 20, 24], tagCol: 3,
};
const layout688 = {
  lefts: [701.5, 790.5, 879.5], w: 86, tops: [240.7, 322.5, 404.3], h: 77,
  xs: L391, vols: vol391, xDomain: [14.45, 26.3] as [number, number], xTicks: [16, 20, 24], tagCol: 0,
};

const dom239: [number, number][] = [[0.3394, 0.4066], [0.3791, 0.4224], [0.387, 0.4251], [0.3903, 0.4267]];
const dom391: [number, number][] = [[0.3785, 0.501], [0.3987, 0.4613], [0.4199, 0.5028], [0.4253, 0.5033]];
const dom688lo: [number, number][] = [[0.5556, 0.658], [0.5596, 0.6574], [0.4815, 0.6594]];
const dom688nlo: [number, number][] = [[0.5555, 0.6596], [0.5616, 0.6579], [0.498, 0.6323]];

const free239 = [free239r1, free239r2, free239r3, free239r4];
const in239 = [in239r1, in239r2, in239r3, in239r4];
const free391 = [free391r1, free391r2, free391r3, free391r4];
const in391 = [in391r1, in391r2, in391r3, in391r4];
const free688 = [free688r1, free688r2, free688r3];
const in688 = [in688r1, in688r2, in688r3];

function build239(fits: Cell[][]): GroupCfg {
  return {
    ...layout239,
    rows: fits.map((f, r) => ({
      domain: dom239[r], ticks: yTicks239[r], digits: 2, free: free239[r], fits: f, inputs: in239[r], tag: <ChannelTag r={r} />,
    })),
  };
}
function build391(fits: Cell[][]): GroupCfg {
  return {
    ...layout391,
    rows: fits.map((f, r) => ({
      domain: dom391[r], ticks: yTicks391[r], digits: r === 2 ? 3 : 2, free: free391[r], fits: f, inputs: in391[r], tag: <ChannelTag r={r} />,
    })),
  };
}
function build688(fits: Cell[][], dom: [number, number][], ticks: number[][], lastDigits: number): GroupCfg {
  return {
    ...layout688,
    rows: fits.map((f, r) => ({
      domain: dom[r], ticks: ticks[r], digits: r === 2 ? lastDigits : 2, free: free688[r], fits: f, inputs: in688[r], tag: <FlavourTag r={r} />,
    })),
  };
}

const groups = {
  lo: {
    g239: build239([lo239r1, lo239r2, lo239r3, lo239r4]),
    g391: build391([lo391r1, lo391r2, lo391r3, lo391r4]),
    g688: build688([lo688r1, lo688r2, lo688r3], dom688lo, yTicks688lo, 1),
  },
  nlo: {
    g239: build239([nlo239r1, nlo239r2, nlo239r3, lo239r4]),
    g391: build391([nlo391r1, lo391r2, nlo391r3, lo391r4]),
    g688: build688([nlo688r1, nlo688r2, nlo688r3], dom688nlo, yTicks688nlo, 2),
  },
};

function Half({ nlo }: { nlo: boolean }) {
  const dy = nlo ? 485 : 0;
  const g = nlo ? groups.nlo : groups.lo;
  const order = nlo ? 'Up to NLO' : 'LO';
  const wave = <>{order} (<i>S</i>-wave)</>;
  const cq = <><i>c</i><i>q̃</i></>;
  return (
    <>
      {/* legend of the 239 MeV panel */}
      <Abs x={122.7} y={61 + dy}><PhiIcon /></Abs>
      <Abs x={137.5} y={61 + dy} align="l" size={9.5}>Input</Abs>
      {nlo ? (
        <div style={{ position: 'absolute', left: 173, top: 60.4 + dy, width: 18, height: 1.2, background: RED }} />
      ) : (
        <div style={{ position: 'absolute', left: 173, top: 58.3 + dy, width: 18, height: 5.5, background: '#eda197' }} />
      )}
      <Abs x={197.5} y={61 + dy} align="l" size={9.5}>This work</Abs>

      <Abs x={172.5} y={72 + dy} size={12.5}><MassTitle m={239} /></Abs>
      <Abs x={322.7} y={72 + dy} align="r" size={11}>{wave}</Abs>
      {irreps239.map((d, c) => (
        <Abs key={d} x={layout239.lefts[c] + layout239.w / 2} y={85.5 + dy} size={10.5}><Irrep d={d} plus={c === 0} /></Abs>
      ))}
      <Group g={g.g239} dy={dy} />
      <Abs x={29} y={289 + dy} rot={-90} size={13}><YTitle /></Abs>
      <Abs x={173} y={507 + dy} size={13}><XTitle /></Abs>

      <Abs x={492.5} y={72 + dy} size={12.5}><MassTitle m={391} /></Abs>
      <Abs x={641.7} y={72 + dy} align="r" size={11}>{wave}</Abs>
      {irreps391.map((d, c) => (
        <Abs key={d} x={layout391.lefts[c] + layout391.w / 2} y={85.5 + dy} size={10.5}><Irrep d={d} plus={c === 0} /></Abs>
      ))}
      <Group g={g.g391} dy={dy} />
      <Abs x={346} y={289 + dy} rot={-90} size={13}><YTitle /></Abs>
      <Abs x={493} y={507 + dy} size={13}><XTitle /></Abs>

      <Abs x={811.7} y={216.5 + dy} size={12.5}><MassTitle m={688} /></Abs>
      <Abs x={962} y={216.5 + dy} align="r" size={11}>{wave}</Abs>
      {irreps688.map((d, c) => (
        <Abs key={d} x={layout688.lefts[c] + layout688.w / 2} y={233.5 + dy} size={10.5}><Irrep d={d} plus={c === 0} /></Abs>
      ))}
      <Group g={g.g688} dy={dy} />
      <Abs x={670} y={360 + dy} rot={-90} size={13}><YTitle /></Abs>
      <Abs x={815} y={504 + dy} size={13}><XTitle /></Abs>

      {/* legend of the 688 MeV panel */}
      {nlo ? (
        <>
          <LineKey x={796.7} y={831.7} />
          <Abs x={825} y={831.7} align="l" size={10}>LO + NLO</Abs>
          <LineKey x={796.7} y={845.7} dash="5 2 1.2 2" />
          <Abs x={825} y={845.7} align="l" size={10}>LO + NLO + {cq}</Abs>
          <Abs x={806.7} y={859.3}><PhiIcon /></Abs>
          <Abs x={825} y={859.3} align="l" size={10}>Input</Abs>
        </>
      ) : (
        <>
          <LineKey x={811.7} y={346.7} dash="5 2 1.2 2" />
          <Abs x={842.7} y={346.7} align="l" size={10}>LO + {cq}</Abs>
          <LineKey x={811.7} y={360.7} />
          <Abs x={842.7} y={360.7} align="l" size={10}>LO</Abs>
          <Abs x={822.7} y={374}><PhiIcon /></Abs>
          <Abs x={842.7} y={374} align="l" size={10}>Input</Abs>
        </>
      )}
    </>
  );
}

export default function App() {
  return (
    <div style={{ position: 'absolute', left: 0, top: 0, width: 1005, height: 1027, background: '#ffffff', overflow: 'hidden', fontFamily: SERIF }}>
      <Abs x={998} y={14} align="r" size={16}>11</Abs>
      <Half nlo={false} />
      <div style={{ position: 'absolute', left: 33, top: 533, width: 917, height: 1, background: '#000000' }} />
      <Half nlo />
    </div>
  );
}
